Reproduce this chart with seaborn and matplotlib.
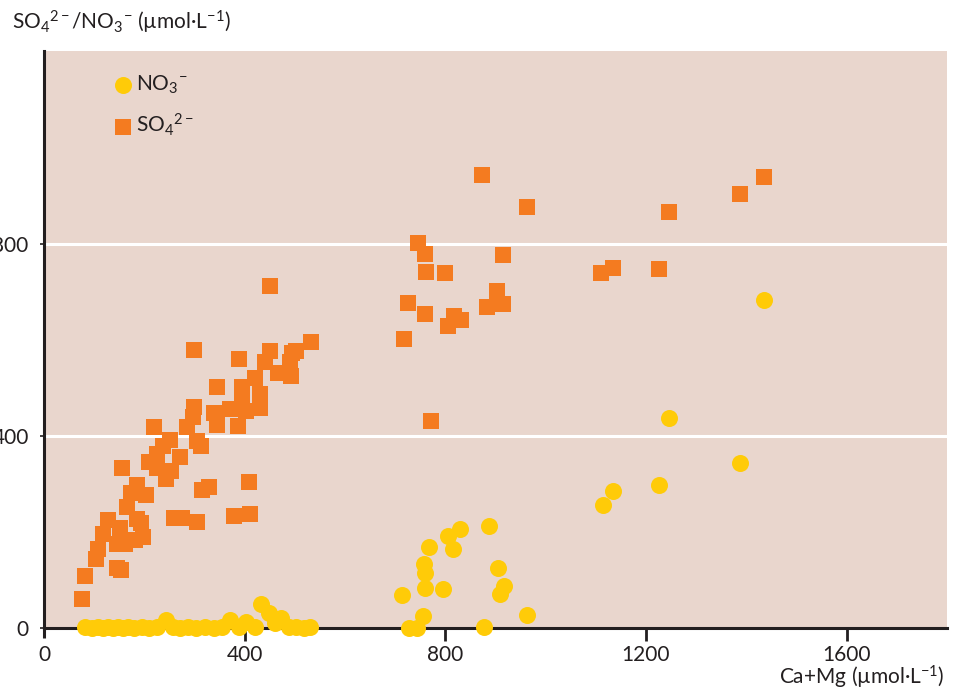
import matplotlib
matplotlib.use("Agg")
import matplotlib.pyplot as plt
import seaborn as sns
import pandas as pd

# ---- data ----
so4_x = [450, 299, 389, 450, 440, 532, 502, 494, 490, 466, 492, 345, 420, 395, 431,
         395, 431, 403, 371, 299, 339, 345, 297, 285, 387, 219, 305, 313, 251, 237,
         225, 209, 271, 225, 253, 243, 156, 186, 174, 204, 315, 329, 409, 166, 128,
         186, 193, 152, 118, 197, 146, 108, 104, 259, 275, 305, 379, 411, 146, 153,
         82, 76, 162, 182,
         874, 962, 745, 759, 914, 761, 799, 902, 725, 884, 914, 759, 817, 831, 805,
         717, 771,
         1111, 1135, 1225, 1246, 1388, 1435]
so4_y = [713, 580, 561, 578, 555, 595, 578, 572, 554, 532, 524, 503, 520, 503, 488,
         481, 459, 453, 457, 461, 447, 422, 439, 418, 420, 418, 389, 380, 391, 380,
         363, 345, 357, 334, 327, 311, 334, 297, 282, 278, 287, 293, 305, 253, 226,
         228, 218, 208, 195, 189, 174, 164, 143, 230, 230, 220, 234, 237, 124, 120,
         108, 60, 176, 183,
         944, 878, 801, 780, 778, 742, 740, 701, 676, 669, 674, 655, 649, 642, 630,
         603, 432,
         740, 749, 747, 867, 905, 940]

no3_x = [82, 95, 108, 118, 128, 138, 148, 158, 168, 180, 195, 210, 225, 243, 258,
         272, 288, 303, 320, 338, 355, 370, 388, 403, 420, 432, 448, 460, 473, 488,
         503, 518, 530,
         830, 888, 805, 815, 768, 757, 760, 760, 795, 714, 904, 917, 909, 962, 756,
         728, 743, 877,
         1114, 1135, 1225, 1246, 1388, 1435]
no3_y = [2, 1, 2, 1, 2, 1, 2, 1, 2, 1, 2, 1, 2, 17, 2,
         1, 2, 1, 2, 1, 2, 17, 2, 13, 3, 51, 31, 10, 20, 3,
         2, 1, 2,
         207, 212, 191, 164, 169, 133, 114, 83, 81, 68, 125, 87, 70, 27, 24,
         0, 0, 2,
         256, 286, 297, 438, 343, 684]

x_ticks = [0, 400, 800, 1200, 1600]
y_ticks = [0, 400, 800]

BG = "#E9D6CD"
ORANGE = "#F47B20"
YELLOW = "#FFCB08"
DARK = "#231F20"

sns.set_theme(style="white")
plt.rcParams["font.family"] = ["Lato", "DejaVu Sans"]
plt.rcParams["mathtext.fontset"] = "custom"
plt.rcParams["mathtext.rm"] = "Lato"
plt.rcParams["mathtext.it"] = "Lato:italic"
plt.rcParams["mathtext.bf"] = "Lato:bold"

df_so4 = pd.DataFrame({"x": so4_x, "y": so4_y})
df_no3 = pd.DataFrame({"x": no3_x, "y": no3_y})

fig = plt.figure(figsize=(9.58, 6.90), dpi=100)
ax = fig.add_axes([44 / 958, 62 / 690, 903 / 958, 577 / 690])
ax.set_facecolor(BG)

ax.set_xlim(0, 1800)
ax.set_ylim(0, 1202)

for yv in [400, 800]:
    ax.axhline(yv, color="white", lw=2.2, zorder=1)

sns.scatterplot(data=df_so4, x="x", y="y", ax=ax, marker="s", s=118,
                color=ORANGE, linewidth=0, label="SO$_4$$^{2-}$", zorder=3,
                clip_on=False)
sns.scatterplot(data=df_no3, x="x", y="y", ax=ax, marker="o", s=150,
                color=YELLOW, linewidth=0, label="NO$_3$$^{-}$", zorder=4,
                clip_on=False)

# spines
for side in ["top", "right"]:
    ax.spines[side].set_visible(False)
for side in ["left", "bottom"]:
    ax.spines[side].set_color(DARK)
    ax.spines[side].set_linewidth(2.2)
ax.spines["left"].set_zorder(2)
ax.spines["bottom"].set_zorder(2)
# extend the y spine slightly below the origin
ax.plot([0, 0], [0, -0.018], transform=ax.transAxes, color=DARK, lw=2.2,
        clip_on=False, solid_capstyle="butt", zorder=2)

ax.set_xticks(x_ticks)
ax.set_yticks(y_ticks)
ax.set_xticklabels([str(v) for v in x_ticks])
ax.set_yticklabels([str(v) for v in y_ticks])
ax.tick_params(axis="x", direction="out", length=9, width=2, color=DARK,
               labelsize=15, labelcolor=DARK, pad=3, bottom=True)
ax.tick_params(axis="y", direction="out", length=3, width=1.2, color=DARK,
               labelsize=15, labelcolor=DARK, pad=8, left=True)
ax.xaxis.get_major_ticks()[0].tick1line.set_visible(False)

ax.set_xlabel("")
ax.set_ylabel("")
fig.text(12 / 958, 1 - 22 / 690, "SO$_4$$^{2-}$/NO$_3$$^{-}$ (µmol·L$^{-1}$)",
         fontsize=15, color=DARK, ha="left", va="center")
fig.text(945 / 958, 1 - 677 / 690, "Ca+Mg (µmol·L$^{-1}$)",
         fontsize=15, color=DARK, ha="right", va="center")

handles, labels = ax.get_legend_handles_labels()
order = [1, 0]
leg = ax.legend([handles[i] for i in order], [labels[i] for i in order],
                loc="upper left", bbox_to_anchor=(0.066, 0.975), frameon=False,
                fontsize=15, handletextpad=0.05, labelspacing=0.75,
                handlelength=1.1, borderaxespad=0)
for t in leg.get_texts():
    t.set_color(DARK)

fig.savefig("out.png", dpi=100)
